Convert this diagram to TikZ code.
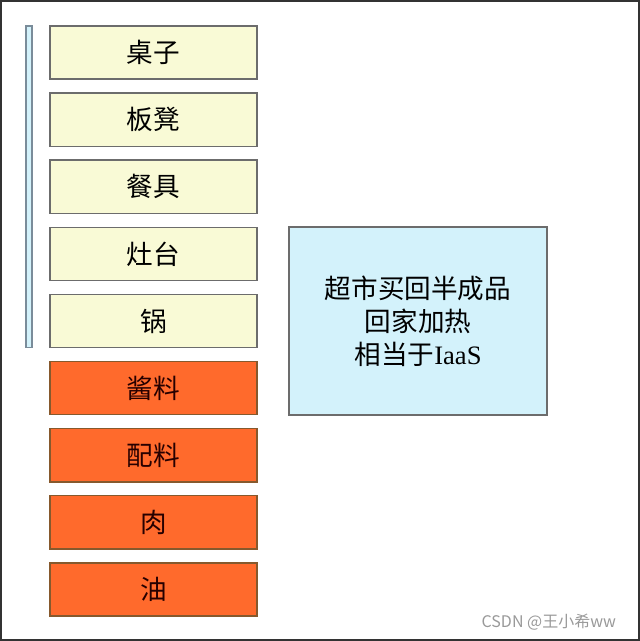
\documentclass[tikz,border=0pt]{standalone}
\usepackage{fontspec}
\setmainfont{Liberation Serif}
\newfontfamily\cjkfont{Noto Sans CJK SC}
\usetikzlibrary{positioning, calc, fit}

\definecolor{crema}{HTML}{F9FAD6}
\definecolor{naranja}{HTML}{FF6A2C}
\definecolor{celeste}{HTML}{D3F2FB}
\definecolor{borde}{HTML}{7A8C9A}

\begin{document}
\begin{tikzpicture}[
		x=1pt, y=1pt,
		node distance=6.95pt,
		% Estilos de bloques
		utensilio/.style={draw=gray!85!black, fill=crema, line width=0.7pt, outer sep=0pt, rectangle, minimum width=103.5pt, minimum height=26.6pt, inner sep=0pt, font=\cjkfont\fontsize{13.3}{16}\selectfont},
		ingrediente/.style={utensilio, draw=brown!70!black, fill=naranja, text=black!85!red},
		nota/.style={draw=gray!85!black, fill=celeste, line width=0.7pt, rectangle, minimum width=129pt, minimum height=94pt, inner sep=0pt, align=center, font=\cjkfont\fontsize{13.3}{16.5}\selectfont},
		barra/.style={draw=borde, fill=celeste, line width=0.7pt, inner sep=0pt},
		marca/.style={font=\cjkfont\fontsize{8}{10}\selectfont, text=gray!80}
		]
		
		% --- MARCO ---
		\useasboundingbox (0,0) rectangle (320,-320.5);
		\draw[gray!40!black, line width=1pt] (0.5,-0.5) rectangle (319.5,-320);
		
		% --- COLUMNA DE BLOQUES (IZQUIERDA) ---
		\node[utensilio, anchor=north west] (zhuozi) at (25,-13) {桌子};
		\node[utensilio, below=of zhuozi] (bandeng) {板凳};
		\node[utensilio, below=of bandeng] (canju) {餐具};
		\node[utensilio, below=of canju] (zaotai) {灶台};
		\node[utensilio, below=of zaotai] (guo) {锅};
		\node[ingrediente, below=of guo] (jiangliao) {酱料};
		\node[ingrediente, below=of jiangliao] (peiliao) {配料};
		\node[ingrediente, below=of peiliao] (rou) {肉};
		\node[ingrediente, below=of rou] (you) {油};
		
		% Barra lateral junto a los utensilios
		\node[barra, fit={($(zhuozi.north west)+(-12,0)$) ($(guo.south west)+(-9,0)$)}] (lateral) {};
		
		% --- CAJA DE COMENTARIO (DERECHA) ---
		\node[nota] (chaoshi) at (209,-160.5) {超市买回半成品\\回家加热\\相当于{\rmfamily IaaS}};
		
		% Marca de agua
		\node[marca, anchor=east] (firma) at (311.5,-311) {CSDN @王小希ww};
		
	\end{tikzpicture}
\end{document}
